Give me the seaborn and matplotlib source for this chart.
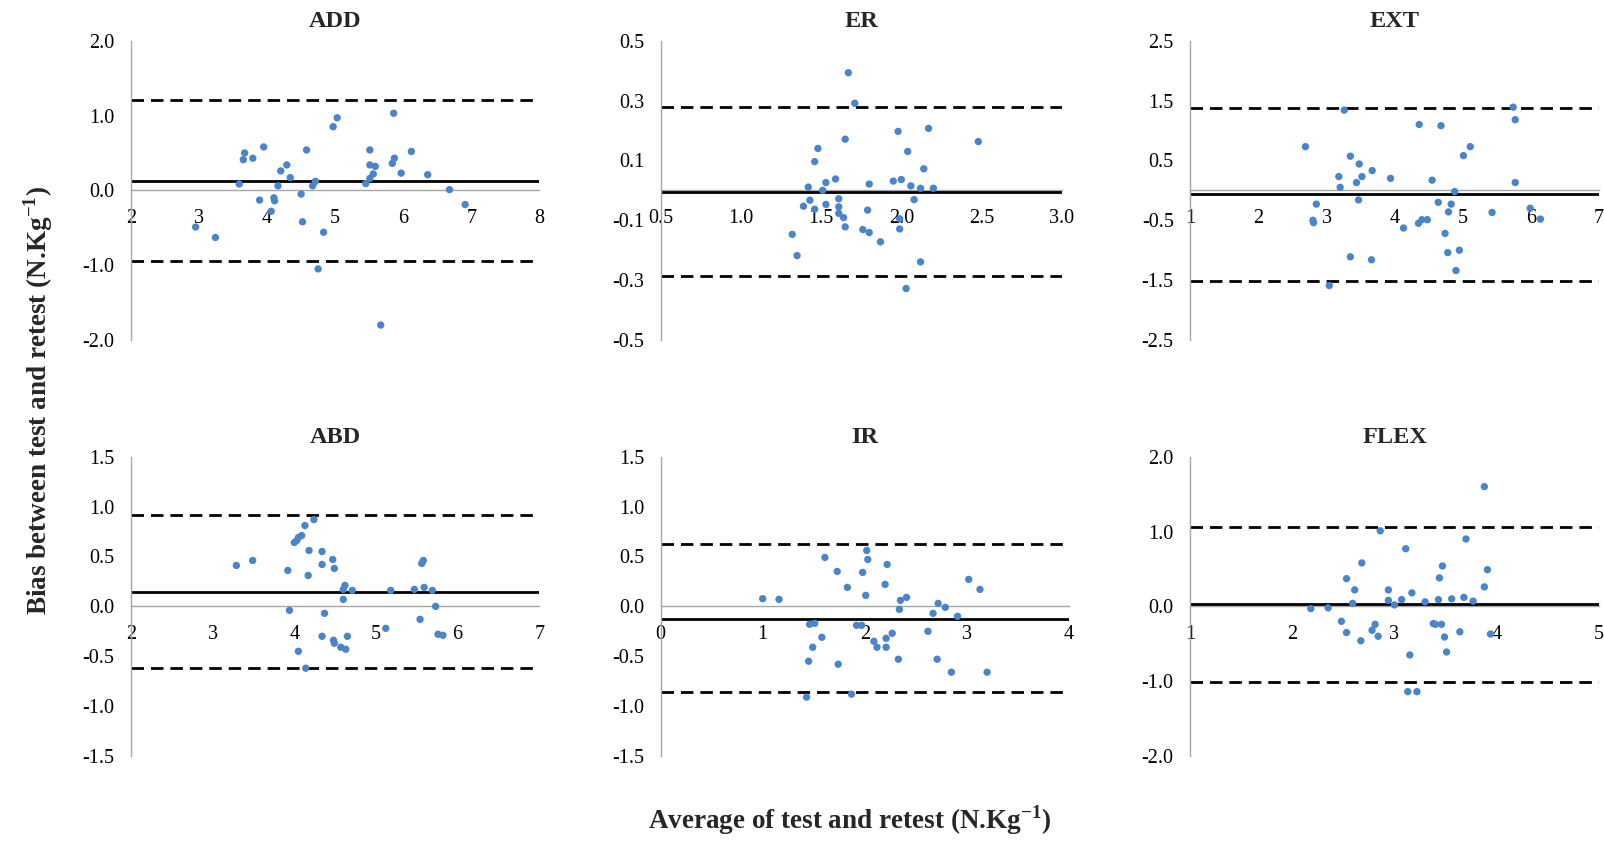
import matplotlib
matplotlib.use("Agg")
import matplotlib.pyplot as plt
import seaborn as sns
import pandas as pd

# ---------------- data ----------------
add_x = [2.95, 3.24, 3.59, 3.65, 3.67, 3.79, 3.89, 3.95, 4.06, 4.10, 4.11, 4.16, 4.20,
         4.29, 4.34, 4.50, 4.52, 4.58, 4.67, 4.71, 4.75, 4.83, 4.97, 5.03, 5.45, 5.51,
         5.51, 5.51, 5.56, 5.59, 5.67, 5.84, 5.86, 5.87, 5.97, 6.12, 6.36, 6.68, 6.91]
add_y = [-0.49, -0.63, 0.085, 0.41, 0.50, 0.43, -0.13, 0.58, -0.28, -0.10, -0.14, 0.06, 0.26,
         0.34, 0.17, -0.05, -0.42, 0.54, 0.06, 0.12, -1.05, -0.56, 0.85, 0.97, 0.09, 0.54,
         0.34, 0.16, 0.22, 0.32, -1.80, 0.36, 1.03, 0.43, 0.23, 0.52, 0.21, 0.01, -0.19]

er_x = [1.32, 1.35, 1.39, 1.42, 1.43, 1.46, 1.46, 1.48, 1.51, 1.53, 1.53, 1.59, 1.61, 1.61,
        1.61, 1.64, 1.65, 1.65, 1.67, 1.71, 1.76, 1.79, 1.80, 1.80, 1.87, 1.95, 1.98, 1.99,
        1.99, 2.00, 2.03, 2.04, 2.06, 2.08, 2.12, 2.12, 2.14, 2.17, 2.20, 2.48]
er_y = [-0.147, -0.218, -0.053, 0.011, -0.033, -0.063, 0.096, 0.140, 0.000, 0.026, -0.047,
        0.038, -0.028, -0.055, -0.077, -0.091, 0.171, -0.122, 0.393, 0.291, -0.131, -0.066,
        0.021, -0.141, -0.172, 0.031, 0.197, -0.129, -0.095, 0.036, -0.328, 0.130, 0.015,
        -0.031, 0.007, -0.239, 0.072, 0.207, 0.007, 0.163]

ext_x = [2.69, 2.80, 2.81, 2.85, 3.04, 3.18, 3.20, 3.26, 3.35, 3.35, 3.44, 3.47, 3.48, 3.52,
         3.66, 3.67, 3.94, 4.13, 4.35, 4.36, 4.40, 4.48, 4.55, 4.64, 4.68, 4.74, 4.78, 4.79,
         4.83, 4.88, 4.90, 4.95, 5.01, 5.11, 5.43, 5.74, 5.77, 5.77, 5.99, 6.14]
ext_y = [0.73, -0.50, -0.54, -0.23, -1.59, 0.23, 0.05, 1.34, 0.57, -1.11, 0.13, -0.16, 0.44,
         0.23, -1.16, 0.33, 0.20, -0.63, -0.55, 1.10, -0.49, -0.49, 0.17, -0.20, 1.08, -0.72,
         -1.04, -0.36, -0.23, -0.02, -1.34, -1.00, 0.58, 0.73, -0.37, 1.39, 1.18, 0.13, -0.30,
         -0.48]

abd_x = [3.29, 3.49, 3.92, 3.94, 4.00, 4.03, 4.05, 4.09, 4.05, 4.13, 4.14, 4.17, 4.18, 4.24,
         4.34, 4.34, 4.34, 4.37, 4.47, 4.48, 4.49, 4.49, 4.57, 4.60, 4.60, 4.62, 4.63, 4.65,
         4.71, 5.12, 5.18, 5.47, 5.54, 5.56, 5.58, 5.59, 5.69, 5.73, 5.76, 5.82]
abd_y = [0.41, 0.46, 0.36, -0.04, 0.64, 0.66, 0.69, 0.71, -0.45, 0.81, -0.62, 0.31, 0.56, 0.87,
         0.42, 0.55, -0.30, -0.07, 0.47, -0.34, 0.38, -0.37, -0.41, 0.07, 0.17, 0.21, -0.43,
         -0.30, 0.16, -0.22, 0.16, 0.17, -0.13, 0.43, 0.46, 0.19, 0.16, 0.00, -0.28, -0.29]

ir_x = [1.00, 1.16, 1.43, 1.45, 1.46, 1.51, 1.49, 1.58, 1.61, 1.73, 1.74, 1.83, 1.87, 1.92,
        1.97, 1.98, 2.01, 2.02, 2.03, 2.09, 2.12, 2.20, 2.21, 2.21, 2.22, 2.27, 2.33, 2.34,
        2.35, 2.41, 2.62, 2.67, 2.71, 2.72, 2.79, 2.85, 2.91, 3.02, 3.13, 3.20]
ir_y = [0.077, 0.07, -0.91, -0.55, -0.18, -0.17, -0.41, -0.31, 0.49, 0.35, -0.58, 0.19, -0.88,
        -0.19, -0.19, 0.34, 0.11, 0.56, 0.47, -0.35, -0.41, 0.22, -0.41, -0.32, 0.42, -0.27,
        -0.53, -0.03, 0.06, 0.09, -0.25, -0.07, -0.53, 0.03, -0.01, -0.66, -0.10, 0.27, 0.17,
        -0.66]

flex_x = [2.18, 2.35, 2.48, 2.53, 2.53, 2.59, 2.61, 2.67, 2.68, 2.78, 2.81, 2.84, 2.86, 2.94,
          2.94, 3.00, 3.07, 3.11, 3.13, 3.15, 3.17, 3.22, 3.30, 3.38, 3.40, 3.43, 3.44, 3.46,
          3.47, 3.49, 3.51, 3.56, 3.64, 3.68, 3.70, 3.77, 3.88, 3.88, 3.91, 3.94]
flex_y = [-0.03, -0.02, -0.20, 0.37, -0.35, 0.04, 0.22, -0.46, 0.58, -0.32, -0.24, -0.40, 1.01,
          0.22, 0.08, 0.02, 0.09, 0.77, -1.14, -0.65, 0.18, -1.14, 0.06, -0.23, -0.24, 0.09,
          0.38, -0.24, 0.54, -0.41, -0.61, 0.10, -0.34, 0.12, 0.90, 0.07, 0.26, 1.60, 0.49,
          -0.37]

panel_names = ["ADD", "ER", "EXT", "ABD", "IR", "FLEX"]
panel_x = [add_x, er_x, ext_x, abd_x, ir_x, flex_x]
panel_y = [add_y, er_y, ext_y, abd_y, ir_y, flex_y]

# mean bias and limits of agreement
mean_bias = [0.13, -0.004, -0.064, 0.144, -0.124, 0.027]
upper_loa = [1.21, 0.277, 1.38, 0.915, 0.62, 1.06]
lower_loa = [-0.94, -0.287, -1.52, -0.62, -0.862, -1.016]

# axis ticks
x_ticks = [[2, 3, 4, 5, 6, 7, 8],
           [0.5, 1.0, 1.5, 2.0, 2.5, 3.0],
           [1, 2, 3, 4, 5, 6, 7],
           [2, 3, 4, 5, 6, 7],
           [0, 1, 2, 3, 4],
           [1, 2, 3, 4, 5]]
x_tick_labels = [["2", "3", "4", "5", "6", "7", "8"],
                 ["0.5", "1.0", "1.5", "2.0", "2.5", "3.0"],
                 ["1", "2", "3", "4", "5", "6", "7"],
                 ["2", "3", "4", "5", "6", "7"],
                 ["0", "1", "2", "3", "4"],
                 ["1", "2", "3", "4", "5"]]
y_ticks = [[-2.0, -1.0, 0.0, 1.0, 2.0],
           [-0.5, -0.3, -0.1, 0.1, 0.3, 0.5],
           [-2.5, -1.5, -0.5, 0.5, 1.5, 2.5],
           [-1.5, -1.0, -0.5, 0.0, 0.5, 1.0, 1.5],
           [-1.5, -1.0, -0.5, 0.0, 0.5, 1.0, 1.5],
           [-2.0, -1.0, 0.0, 1.0, 2.0]]

x_label = "Average of test and retest (N.Kg$^{\\mathbf{-1}}$)"
y_label = "Bias between test and retest (N.Kg$^{\\mathbf{-1}}$)"

# ---------------- style ----------------
sns.set_style("white")
plt.rcParams["font.family"] = ["Liberation Serif", "DejaVu Serif"]
plt.rcParams["mathtext.fontset"] = "custom"
plt.rcParams["mathtext.rm"] = "Liberation Serif"
plt.rcParams["mathtext.bf"] = "Liberation Serif:bold"
plt.rcParams["axes.unicode_minus"] = False

W, H = 1604, 848
fig = plt.figure(figsize=(W / 100, H / 100), dpi=100)

# axes rectangles in pixels (left, right, top, bottom)
rects_px = [(131, 539.3, 40.7, 340), (660.7, 1061.7, 40.7, 340), (1190.3, 1599, 40.7, 340),
            (131, 539.3, 456.7, 756), (660.7, 1068.7, 456.7, 756), (1190.3, 1598.7, 456.7, 756)]

dot_color = "#4A85CC"
grey = "#A6A6A6"

for i, name in enumerate(panel_names):
    l, r, t, b = rects_px[i]
    ax = fig.add_axes([l / W, 1 - b / H, (r - l) / W, (b - t) / H])
    df = pd.DataFrame({"avg": panel_x[i], "bias": panel_y[i]})
    xt = x_ticks[i]
    yt = y_ticks[i]
    ax.axhline(mean_bias[i], color="black", lw=2.0, zorder=2)
    ax.axhline(upper_loa[i], color="black", lw=2.0, ls=(0, (4.5, 2.5)), zorder=2)
    ax.axhline(lower_loa[i], color="black", lw=2.0, ls=(0, (4.5, 2.5)), zorder=2)
    sns.scatterplot(data=df, x="avg", y="bias", ax=ax, color=dot_color, s=28,
                    edgecolor="none", linewidth=0, zorder=3, clip_on=False)
    ax.set_xlim(xt[0], xt[-1])
    ax.set_ylim(yt[0], yt[-1])
    ax.set_xticks(xt)
    ax.set_xticklabels(x_tick_labels[i])
    ax.set_yticks(yt)
    ax.set_yticklabels([f"{v:.1f}" for v in yt])
    ax.set_xlabel("")
    ax.set_ylabel("")
    for s in ["top", "right"]:
        ax.spines[s].set_visible(False)
    ax.spines["bottom"].set_position(("data", 0))
    ax.spines["bottom"].set_color(grey)
    ax.spines["left"].set_color(grey)
    ax.spines["bottom"].set_linewidth(1.0)
    ax.spines["left"].set_linewidth(1.0)
    ax.spines["bottom"].set_zorder(1)
    ax.tick_params(axis="x", direction="out", length=3.5, width=1, color=grey,
                   pad=10, labelsize=14.5, labelcolor="black")
    ax.tick_params(axis="y", direction="out", length=3.5, width=1, color=grey,
                   pad=8.5, labelsize=14.5, labelcolor="black")
    ax.set_title(name, fontsize=17.5, fontweight="bold", pad=10)
    ax.set_facecolor("none")

fig.text(850 / W, 1 - 829 / H, x_label, ha="center", va="baseline",
         fontsize=19.5, fontweight="bold")
fig.text(38 / W, 1 - 401 / H, y_label, ha="center", va="center", rotation=90,
         fontsize=19.5, fontweight="bold")

fig.savefig("out.png", dpi=100, facecolor="white")
